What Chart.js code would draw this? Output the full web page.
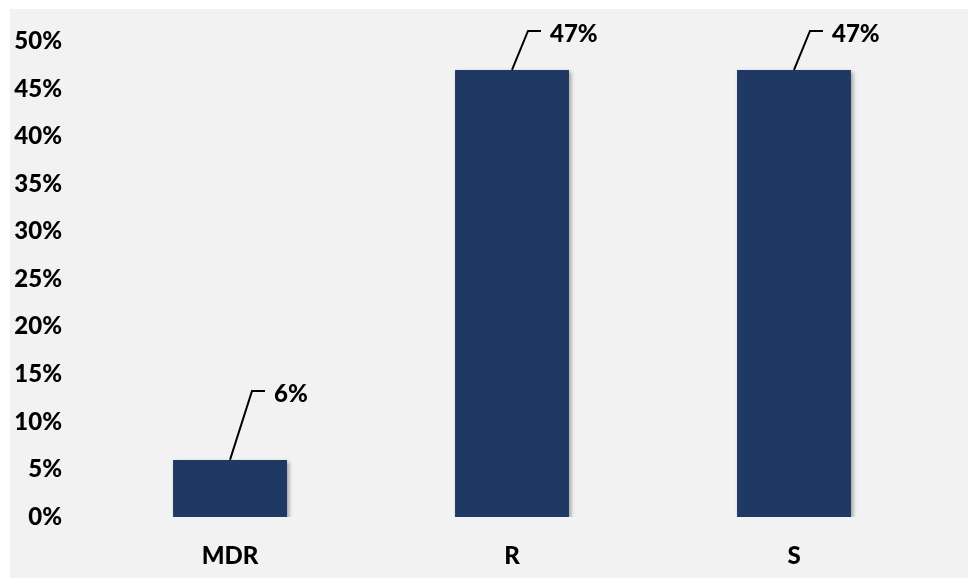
<!DOCTYPE html>
<html>
<head>
<meta charset="utf-8">
<script src="https://cdn.jsdelivr.net/npm/chart.js@4"></script>
<style>
  html, body { margin: 0; padding: 0; background: #ffffff; }
  #wrap { width: 968px; height: 578px; }
</style>
</head>
<body>
<div id="wrap"><canvas id="grafico"></canvas></div>
<script>
// dados do gráfico
var categorias = ["MDR", "R", "S"];
var valores = [6, 47, 47];
var ticksY = [0, 5, 10, 15, 20, 25, 30, 35, 40, 45, 50];

// deslocamento das linhas de chamada dos rótulos (dx, dy da diagonal)
var chamadas = [[22, -69], [16, -39], [16, -39]];

// fundo cinza da área do gráfico
var fundo = {
  id: 'fundo',
  beforeDraw(chart) {
    var ctx = chart.ctx;
    ctx.save();
    ctx.fillStyle = '#f2f2f2';
    ctx.fillRect(10, 9, chart.width - 10, chart.height - 9);
    ctx.restore();
  }
};

// rótulos com linha de chamada
var rotulos = {
  id: 'rotulos',
  afterDatasetsDraw(chart) {
    var ctx = chart.ctx;
    var meta = chart.getDatasetMeta(0);
    ctx.save();
    meta.data.forEach(function (bar, i) {
      var d = chamadas[i];
      var x0 = bar.x, y0 = bar.y;
      var x1 = x0 + d[0], y1 = y0 + d[1];
      ctx.beginPath();
      ctx.strokeStyle = '#000';
      ctx.lineWidth = 2;
      ctx.moveTo(x0, y0);
      ctx.lineTo(x1, y1);
      ctx.lineTo(x1 + 13, y1);
      ctx.stroke();
      ctx.fillStyle = '#000';
      ctx.font = '900 24px Lato';
      ctx.textAlign = 'left';
      ctx.textBaseline = 'middle';
      ctx.fillText(valores[i] + '%', x1 + 22, y1 + 3);
    });
    ctx.restore();
  }
};

// sombra das barras
var sombra = {
  id: 'sombra',
  beforeDatasetsDraw(chart) {
    var ctx = chart.ctx;
    ctx.save();
    ctx.shadowColor = 'rgba(0,0,0,0.35)';
    ctx.shadowBlur = 4;
    ctx.shadowOffsetX = 2;
    ctx.shadowOffsetY = 2;
  },
  afterDatasetsDraw(chart) {
    chart.ctx.restore();
  }
};

var myChart = new Chart(document.getElementById('grafico'), {
  type: 'bar',
  data: {
    labels: categorias,
    datasets: [{
      data: valores,
      backgroundColor: '#203864',
      borderWidth: 0,
      barPercentage: 0.404,
      categoryPercentage: 1
    }]
  },
  options: {
    responsive: true,
    maintainAspectRatio: false,
    animation: false,
    layout: { padding: { left: 0, right: 33, top: 41, bottom: 0 } },
    plugins: { legend: { display: false }, tooltip: { enabled: false } },
    scales: {
      x: {
        grid: { display: false, drawTicks: false },
        border: { display: false },
        ticks: { color: '#000', font: { family: 'Lato', size: 24, weight: '900' }, padding: 25 },
        afterFit: function (s) { s.height = 61; }
      },
      y: {
        min: 0,
        max: 50,
        afterBuildTicks: function (s) { s.ticks = ticksY.map(function (v) { return { value: v }; }); },
        grid: { display: false, drawTicks: false },
        border: { display: false },
        ticks: {
          color: '#000',
          font: { family: 'Lato', size: 24, weight: '900' },
          padding: 27,
          callback: function (v) { return v + '%'; }
        },
        afterFit: function (s) { s.width = 89; }
      }
    }
  },
  plugins: [fundo, sombra, rotulos]
});
</script>
</body>
</html>
